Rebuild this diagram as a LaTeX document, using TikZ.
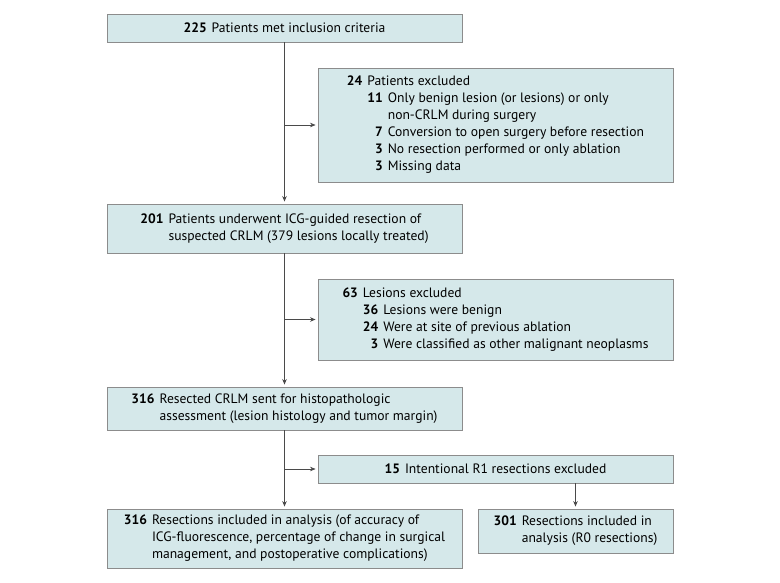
\documentclass[tikz,border=0pt]{standalone}
\usepackage{fontspec}
\setmainfont{PT Sans}
\usetikzlibrary{arrows.meta}
\definecolor{boxfill}{HTML}{D5E8EA}
\definecolor{boxline}{HTML}{8C8C8C}
\definecolor{linecol}{HTML}{4A4A4A}
\newcommand{\nsep}{\hspace{5pt}}
\tikzset{
  box/.style={draw=boxline, fill=boxfill, line width=0.9pt, inner sep=0pt,
    font=\fontsize{13.6}{17}\selectfont, align=center},
  conn/.style={draw=linecol, line width=0.7pt},
  arr/.style={conn, -{Stealth[length=5.5pt,width=4.5pt]}, shorten >=2pt}
}
\begin{document}
\begin{tikzpicture}[x=1pt,y=-1pt]
\useasboundingbox (0,0) rectangle (780,582);
\fill[white] (0,0) rectangle (780,582);

\node[box, minimum width=355pt, minimum height=28pt] (b1) at (284.5,28)
  {\textbf{225}\nsep Patients met inclusion criteria};

\node[box, minimum width=355pt, minimum height=114pt] (b2) at (495.5,125)
  {\begin{tabular}{@{}r@{\nsep}r@{\nsep}l@{}}
   \textbf{24} & \multicolumn{2}{@{}l@{}}{Patients excluded}\\
   & \textbf{11} & Only benign lesion (or lesions) or only\\
   & & non-CRLM during surgery\\
   & \textbf{7} & Conversion to open surgery before resection\\
   & \textbf{3} & No resection performed or only ablation\\
   & \textbf{3} & Missing data
   \end{tabular}};

\node[box, minimum width=355pt, minimum height=49pt] (b3) at (284.5,228.5)
  {\begin{tabular}{@{}r@{\nsep}l@{}}
   \textbf{201} & Patients underwent ICG-guided resection of\\
   & suspected CRLM (379 lesions locally treated)
   \end{tabular}};

\node[box, minimum width=355pt, minimum height=81pt] (b4) at (495.5,319.5)
  {\begin{tabular}{@{}r@{\nsep}r@{\nsep}l@{}}
   \textbf{63} & \multicolumn{2}{@{}l@{}}{Lesions excluded}\\
   & \textbf{36} & Lesions were benign\\
   & \textbf{24} & Were at site of previous ablation\\
   & \textbf{3} & Were classified as other malignant neoplasms
   \end{tabular}};

\node[box, minimum width=355pt, minimum height=43pt] (b5) at (284.5,408.5)
  {\begin{tabular}{@{}r@{\nsep}l@{}}
   \textbf{316} & Resected CRLM sent for histopathologic\\
   & assessment (lesion histology and tumor margin)
   \end{tabular}};

\node[box, minimum width=355pt, minimum height=28pt] (b6) at (495.5,469)
  {\textbf{15}\nsep Intentional R1 resections excluded};

\node[box, minimum width=355pt, minimum height=59pt] (b7) at (284.5,538.5)
  {\begin{tabular}{@{}r@{\nsep}l@{}}
   \textbf{316} & Resections included in analysis (of accuracy of\\
   & ICG-fluorescence, percentage of change in surgical\\
   & management, and postoperative complications)
   \end{tabular}};

\node[box, minimum width=195pt, minimum height=44pt] (b8) at (575.5,531)
  {\begin{tabular}{@{}r@{\nsep}l@{}}
   \textbf{301} & Resections included in\\
   & analysis (R0 resections)
   \end{tabular}};

\draw[arr] (b1.south) -- (b3.north);
\draw[arr] (b3.south) -- (b5.north);
\draw[arr] (b5.south) -- (b7.north);
\draw[arr] (b1.south |- b2.west) -- (b2.west);
\draw[arr] (b3.south |- b4.west) -- (b4.west);
\draw[arr] (b5.south |- b6.west) -- (b6.west);
\draw[arr] (b8.north |- b6.south) -- (b8.north);
\end{tikzpicture}
\end{document}
